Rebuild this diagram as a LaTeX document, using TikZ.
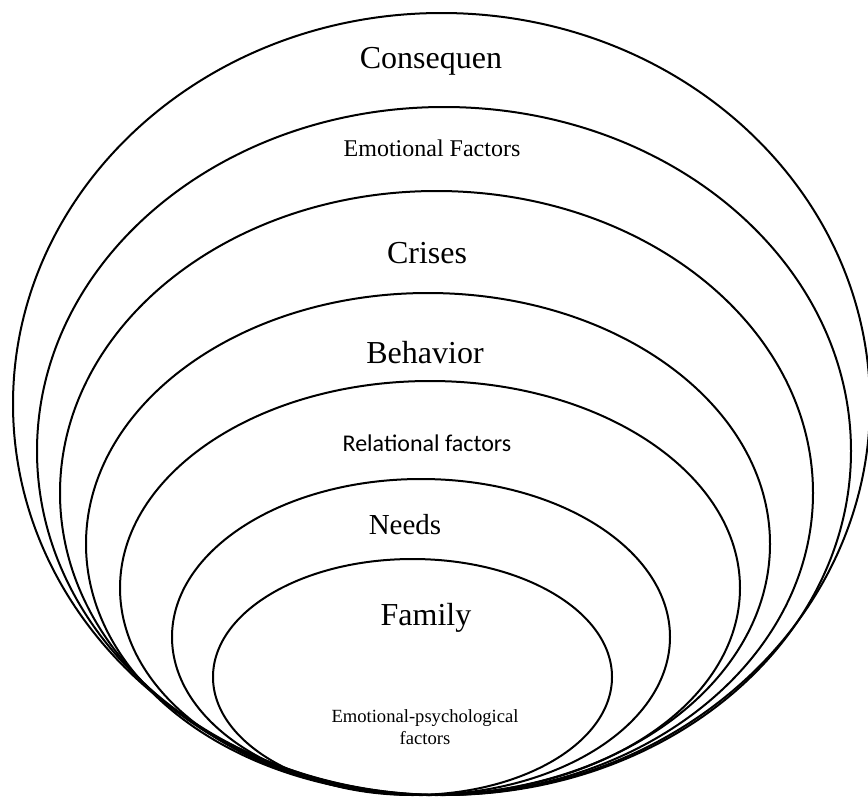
\documentclass[tikz,border=0pt]{standalone}
\usepackage{fontspec}
\setmainfont{Liberation Serif}
\newfontfamily\calfont{Carlito}
\tikzset{
  ring/.style={line width=2pt},
  bigtxt/.style={inner sep=0pt, font=\fontsize{32}{38}\selectfont},
  midtxt/.style={inner sep=0pt, font=\fontsize{24}{28}\selectfont},
}
\begin{document}
\begin{tikzpicture}[x=1pt,y=-1pt]
    \clip (0,0) rectangle (868,798);
    % nested rings, all meeting at the bottom
    \draw[ring] (441.5,404) ellipse [x radius=428.5, y radius=391];
    \draw[ring] (444,451) ellipse [x radius=407, y radius=344];
    \draw[ring] (436.5,493) ellipse [x radius=376.5, y radius=302];
    \draw[ring] (428,544) ellipse [x radius=342, y radius=251];
    \draw[ring] (430,588) ellipse [x radius=310, y radius=207];
    \draw[ring] (421,637) ellipse [x radius=249, y radius=158];
    \draw[ring] (412.5,677) ellipse [x radius=199.5, y radius=118];
    % labels
    \node[bigtxt] (conseq) at (431,61) {Consequen};
    \node[midtxt] (emofac) at (432,148) {Emotional Factors};
    \node[bigtxt] (crises) at (427,253) {Crises};
    \node[bigtxt] (behav) at (425,353) {Behavior};
    \node[midtxt, font=\calfont\fontsize{24}{28}\selectfont] (relfac) at (427,443) {Relational factors};
    \node[inner sep=0pt, font=\fontsize{29}{34}\selectfont] (needs) at (405,525) {Needs};
    \node[bigtxt] (family) at (426,618) {Family};
    \node[inner sep=0pt, align=center, font=\fontsize{18.6}{22}\selectfont] (emopsy) at (425,727) {Emotional-psychological\\factors};
\end{tikzpicture}
\end{document}
